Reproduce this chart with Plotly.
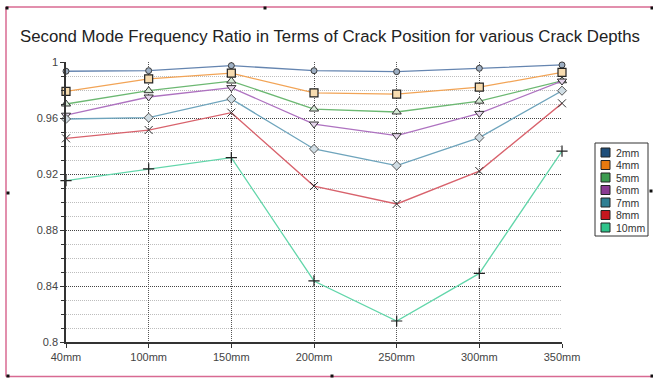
import plotly.graph_objects as go

positions = ["40mm", "100mm", "150mm", "200mm", "250mm", "300mm", "350mm"]
depths = ["2mm", "4mm", "5mm", "6mm", "7mm", "8mm", "10mm"]

r_2mm = [0.9934, 0.9938, 0.9974, 0.9938, 0.9931, 0.9955, 0.9979]
r_4mm = [0.9790, 0.9880, 0.9920, 0.9780, 0.9770, 0.9820, 0.9926]
r_5mm = [0.9700, 0.9795, 0.9864, 0.9664, 0.9643, 0.9720, 0.9866]
r_6mm = [0.9620, 0.9750, 0.9817, 0.9557, 0.9474, 0.9633, 0.9864]
r_7mm = [0.9593, 0.9602, 0.9736, 0.9379, 0.9260, 0.9460, 0.9795]
r_8mm = [0.9455, 0.9514, 0.9638, 0.9114, 0.8986, 0.9221, 0.9705]
r_10mm = [0.9152, 0.9236, 0.9317, 0.8436, 0.8150, 0.8490, 0.9364]
series = [r_2mm, r_4mm, r_5mm, r_6mm, r_7mm, r_8mm, r_10mm]

line_colors = ["#6585b0", "#f2a456", "#6cb872", "#ae72c0", "#6ea4bc", "#d8626c", "#62d6aa"]
legend_colors = ["#1f4e7a", "#e8790f", "#3c9c50", "#8a3b92", "#2f7f93", "#c4161f", "#2fc38a"]
marker_styles = [
    dict(symbol="circle", size=6, color="#9fb0c4", line=dict(color="#3a3a3a", width=1)),
    dict(symbol="square", size=8, color="#f7dcb0", line=dict(color="#222222", width=1.2)),
    dict(symbol="triangle-up", size=8, color="#d6ead6", line=dict(color="#333333", width=1)),
    dict(symbol="triangle-down", size=8, color="#e6d6ec", line=dict(color="#333333", width=1)),
    dict(symbol="diamond", size=7, color="#d0dde4", line=dict(color="#555555", width=1)),
    dict(symbol="x-thin-open", size=8, color="#333333", line=dict(color="#333333", width=1)),
    dict(symbol="cross-thin-open", size=8, color="#222222", line=dict(color="#222222", width=1.2)),
]

W, H = 653, 378
L, R, T, B = 66, 562, 62, 342

fig = go.Figure()
for name, vals, lc, ms in zip(depths, series, line_colors, marker_styles):
    fig.add_trace(go.Scatter(
        x=positions, y=vals, name=name, mode="lines+markers",
        line=dict(color=lc, width=1.3), marker=ms, cliponaxis=False,
        showlegend=False,
    ))

def px(x):
    return (x - L) / (R - L)

def py(y):
    return (B - y) / (B - T)

shapes = []
annotations = []

# page border (pink)
pink = "#d86a92"
shapes.append(dict(type="line", xref="paper", yref="paper", x0=px(6), x1=px(653), y0=py(7), y1=py(7),
                   line=dict(color=pink, width=1.5)))
shapes.append(dict(type="line", xref="paper", yref="paper", x0=px(6), x1=px(653), y0=py(376.5), y1=py(376.5),
                   line=dict(color=pink, width=1.5)))
shapes.append(dict(type="line", xref="paper", yref="paper", x0=px(6), x1=px(6), y0=py(7), y1=py(376.5),
                   line=dict(color=pink, width=1.5)))
for hx, hy in [(7, 8), (265, 8), (652, 8), (8, 193), (651, 191), (8, 376), (332, 376), (652, 376)]:
    shapes.append(dict(type="rect", xref="paper", yref="paper",
                       x0=px(hx - 1.5), x1=px(hx + 1.5), y0=py(hy + 1.5), y1=py(hy - 1.5),
                       fillcolor="#111111", line=dict(width=0)))

# manual legend
lx0, lx1, ly0, ly1 = 595, 648, 143, 236
shapes.append(dict(type="rect", xref="paper", yref="paper", x0=px(lx0), x1=px(lx1), y0=py(ly1), y1=py(ly0),
                   fillcolor="white", line=dict(color="#333333", width=1)))
for i, (name, col) in enumerate(zip(depths, legend_colors)):
    cy = 152.5 + i * 12.5
    shapes.append(dict(type="rect", xref="paper", yref="paper",
                       x0=px(601), x1=px(610), y0=py(cy + 4.5), y1=py(cy - 4.5),
                       fillcolor=col, line=dict(color="#222222", width=1)))
    annotations.append(dict(text=name, xref="paper", yref="paper", x=px(614), y=py(cy),
                            xanchor="left", yanchor="middle", showarrow=False,
                            font=dict(size=10.5, color="#333333", family="Liberation Sans, Arial")))

fig.update_layout(
    width=W, height=H,
    margin=dict(l=L, r=W - R, t=T, b=H - B),
    paper_bgcolor="white", plot_bgcolor="white",
    title=dict(text="Second Mode Frequency Ratio in Terms of Crack Position for various Crack Depths",
               x=330 / W, xref="container", xanchor="center", y=1 - 36 / H, yanchor="middle", yref="container",
               font=dict(size=16.8, color="#222222", family="Liberation Sans, Arial")),
    font=dict(family="Liberation Sans, Arial", size=11, color="#444444"),
    shapes=shapes, annotations=annotations,
    showlegend=False,
)

fig.update_xaxes(
    type="category", range=[0, 6], showline=True, linecolor="#333333", linewidth=1.5,
    ticks="outside", ticklen=4, tickcolor="#333333",
    showgrid=True, gridcolor="#555555", gridwidth=1, griddash="1px,1px",
    tickfont=dict(size=11, color="#444444"), zeroline=False,
)
fig.update_yaxes(
    range=[0.8, 1.0], dtick=0.04, tick0=0.8, showline=True, linecolor="#333333", linewidth=1.5,
    ticks="outside", ticklen=4, tickcolor="#333333",
    showgrid=True, gridcolor="#444444", gridwidth=1, griddash="1px,1px",
    minor=dict(dtick=0.01, tick0=0.8, ticks="outside", ticklen=3, tickcolor="#333333",
               showgrid=True, gridcolor="#bdbdbd", gridwidth=1, griddash="1px,1px"),
    tickfont=dict(size=11, color="#444444"), zeroline=False, tickformat="~g",
)

fig.write_html("out.html")
